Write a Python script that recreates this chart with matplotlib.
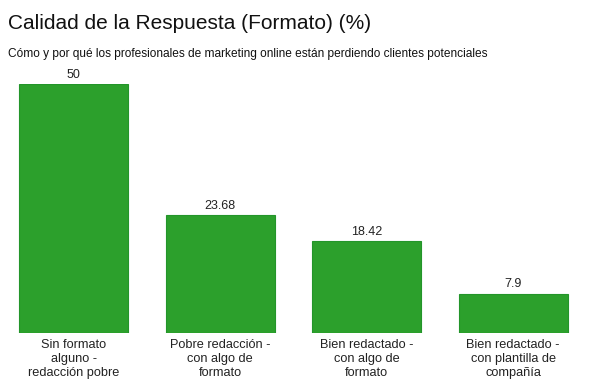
import matplotlib
matplotlib.use("Agg")
import matplotlib.pyplot as plt

categories = ["Sin formato\nalguno -\nredacción pobre",
              "Pobre redacción -\ncon algo de\nformato",
              "Bien redactado -\ncon algo de\nformato",
              "Bien redactado -\ncon plantilla de\ncompañía"]
values = [50, 23.68, 18.42, 7.9]
value_labels = ["50", "23.68", "18.42", "7.9"]

plt.rcParams['font.family'] = ['Liberation Sans', 'DejaVu Sans']

W, H = 608, 390
fig = plt.figure(figsize=(W/100, H/100), dpi=100)
left = 0.5 / W
width = 586 / W
bottom = (H - 333) / H
top = (H - 84) / H
ax = fig.add_axes([left, bottom, width, top - bottom])

x = list(range(len(categories)))
bars = ax.bar(x, values, width=0.744, color='#2ca02c', edgecolor='#23952a', linewidth=0.8)
ax.set_xlim(-0.5, len(categories) - 0.5)
ax.set_ylim(0, 50)
for xi, v, lab in zip(x, values, value_labels):
    ax.annotate(lab, (xi, v), xytext=(0, 2.5), textcoords='offset points',
                ha='center', va='bottom', fontsize=9, color='#222222', annotation_clip=False)
ax.set_xticks(x)
ax.set_xticklabels(categories, fontsize=9.2, color='#222222', linespacing=1.25)
ax.tick_params(axis='x', length=0, pad=4)
ax.set_yticks([])
for s in ax.spines.values():
    s.set_visible(False)

fig.text(8/W, 1 - 29/H, "Calidad de la Respuesta (Formato) (%)", fontsize=15, color='#111111', ha='left', va='baseline')
fig.text(8/W, 1 - 57/H, "Cómo y por qué los profesionales de marketing online están perdiendo clientes potenciales", fontsize=8.6, color='#111111', ha='left', va='baseline')

fig.savefig("out.png", dpi=100)
